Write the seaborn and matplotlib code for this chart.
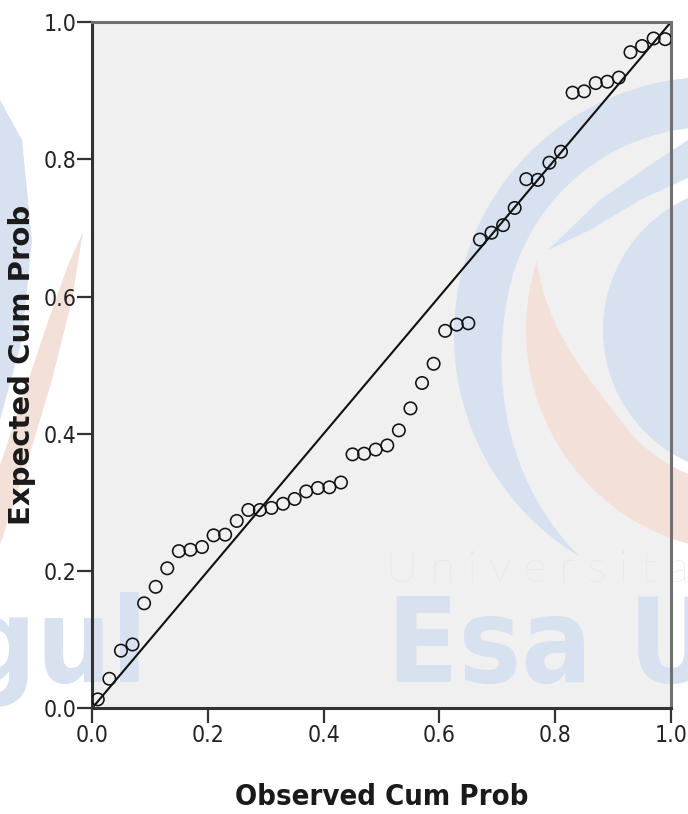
import os
import numpy as np
import pandas as pd
import matplotlib
matplotlib.use("Agg")
import matplotlib.pyplot as plt
import matplotlib.transforms as mtransforms
from matplotlib import font_manager as fm
from matplotlib.patches import Rectangle, Circle, Polygon
import seaborn as sns

# Observed vs expected cumulative probabilities (P-P plot, 50 cases)
observed = [0.01, 0.03, 0.05, 0.07, 0.09, 0.11, 0.13, 0.15, 0.17, 0.19,
            0.21, 0.23, 0.25, 0.27, 0.29, 0.31, 0.33, 0.35, 0.37, 0.39,
            0.41, 0.43, 0.45, 0.47, 0.49, 0.51, 0.53, 0.55, 0.57, 0.59,
            0.61, 0.63, 0.65, 0.67, 0.69, 0.71, 0.73, 0.75, 0.77, 0.79,
            0.81, 0.83, 0.85, 0.87, 0.89, 0.91, 0.93, 0.95, 0.97, 0.99]
expected = [0.013, 0.043, 0.084, 0.093, 0.153, 0.177, 0.204, 0.229, 0.231, 0.235,
            0.252, 0.253, 0.273, 0.289, 0.289, 0.292, 0.298, 0.305, 0.316, 0.321,
            0.322, 0.329, 0.370, 0.371, 0.377, 0.383, 0.405, 0.437, 0.474, 0.502,
            0.550, 0.559, 0.561, 0.683, 0.693, 0.704, 0.729, 0.771, 0.770, 0.795,
            0.811, 0.897, 0.899, 0.911, 0.913, 0.919, 0.956, 0.965, 0.976, 0.975]
reference_line = [0.0, 1.0]
tick_values = [0.0, 0.2, 0.4, 0.6, 0.8, 1.0]
tick_labels = ["0.0", "0.2", "0.4", "0.6", "0.8", "1.0"]
x_title = "Observed Cum Prob"
y_title = "Expected Cum Prob"

df = pd.DataFrame({"observed": observed, "expected": expected})

sns.set_style("white")
plt.rcParams["font.family"] = ["Liberation Sans", "DejaVu Sans"]


def font_from_files(names, fallback):
    files = {os.path.basename(f.fname): f.fname for f in fm.fontManager.ttflist}
    for n in names:
        if n in files:
            return fm.FontProperties(fname=files[n]), n
    return fallback, None


tick_fp, tick_name = font_from_files(
    ["LiberationSansNarrow-Regular.ttf", "DejaVuSansCondensed.ttf"],
    fm.FontProperties(family="Liberation Sans"))
tick_fp.set_size(18 if tick_name and "Liberation" in tick_name else 16.5)

xt_fp, xt_name = font_from_files(
    ["DejaVuSansCondensed-Bold.ttf", "LiberationSansNarrow-Bold.ttf"],
    fm.FontProperties(family="Liberation Sans", weight="bold"))
if xt_name is None:
    xt_fp.set_size(20)
elif "DejaVu" in xt_name:
    xt_fp.set_size(21)
else:
    xt_fp.set_size(25)

yt_fp = fm.FontProperties(family="DejaVu Sans", weight="bold", size=21)

W, H = 688, 814
fig = plt.figure(figsize=(W / 100, H / 100), dpi=100)
ax = fig.add_axes([92 / W, 1 - 708.3 / H, (671 - 92) / W, (708.3 - 22) / H])
ax.patch.set_visible(False)

# plot background drawn beneath the logo overlay
fig.add_artist(Rectangle((0, 0), 1, 1, transform=ax.transAxes,
                         facecolor="#f0f0f0", edgecolor="none", zorder=-3))

# faint university logo overlay, laid out in pixel units (y downward)
px = mtransforms.Affine2D().scale(1, -1).translate(0, H)
blue = "#d7e1f0"
orange = "#f3e1d9"


def crescent(cx, cy, r, w, t1, t2, taper1, taper2):
    t = np.linspace(t1, t2, 200)
    ramp = np.clip(np.minimum((t - t1) / taper1, (t2 - t) / taper2), 0, 1)
    width = w * np.sin(ramp * np.pi / 2)
    rad = np.deg2rad(t)
    outer = np.column_stack([cx + r * np.cos(rad), cy + r * np.sin(rad)])
    ri = r - width
    inner = np.column_stack([cx + ri * np.cos(rad), cy + ri * np.sin(rad)])[::-1]
    return np.vstack([outer, inner])


wm = [
    Polygon(crescent(712, 335, 258, 50, 121, 290, 70, 5), closed=True,
            facecolor=blue),
    Circle((748, 330), 145, facecolor=blue),
    Polygon(crescent(748, 330, 222, 66, 80, 198, 5, 55), closed=True,
            facecolor=orange),
    Polygon([(548, 250), (600, 200), (650, 165), (688, 140), (688, 178),
             (640, 200), (590, 230)], closed=True, facecolor=blue),
    Polygon([(83, 232), (72, 300), (52, 380), (28, 460), (0, 545), (0, 465),
             (20, 405), (45, 330), (68, 265)], closed=True, facecolor=orange),
    Polygon([(0, 100), (22, 140), (32, 240), (22, 340), (0, 420)],
            closed=True, facecolor=blue),
]
for p in wm:
    p.set_transform(px)
    p.set_edgecolor("none")
    p.set_zorder(-2)
    fig.add_artist(p)

wm_bold, _ = font_from_files(
    ["LiberationSansNarrow-Bold.ttf", "DejaVuSansCondensed-Bold.ttf"],
    fm.FontProperties(family="Liberation Sans", weight="bold"))
wm_bold.set_size(84)
fig.text(387, 682, "Esa U", fontproperties=wm_bold, color=blue,
         transform=px, ha="left", va="baseline", zorder=-2)
fig.text(148, 682, "Unggul", fontproperties=wm_bold, color=blue,
         transform=px, ha="right", va="baseline", zorder=-2)
fig.text(386, 582, "U n i v e r s i t a s", family="Lato", weight="light",
         fontsize=32, color="#dce4f1", transform=px, ha="left",
         va="baseline", zorder=-2)

# reference diagonal and data points
sns.lineplot(x=reference_line, y=reference_line, ax=ax, color="#111111",
             linewidth=1.5, zorder=2)
sns.scatterplot(data=df, x="observed", y="expected", ax=ax, marker="o",
                s=80, zorder=3, legend=False)
pts = ax.collections[-1]
pts.set_facecolor("none")
pts.set_edgecolor("#111111")
pts.set_linewidth(1.15)

ax.set_xlim(0, 1)
ax.set_ylim(0, 1)
ax.set_xticks(tick_values)
ax.set_yticks(tick_values)
ax.set_xticklabels(tick_labels, fontproperties=tick_fp, color="#222222")
ax.set_yticklabels(tick_labels, fontproperties=tick_fp, color="#222222")
ax.tick_params(axis="both", direction="out", length=10.5, width=1.6,
               color="#333333", left=True, bottom=True)
ax.tick_params(axis="x", pad=1)
ax.tick_params(axis="y", pad=0.5)

for side in ["left", "bottom"]:
    ax.spines[side].set_color("#333333")
    ax.spines[side].set_linewidth(2.2)
for side in ["top", "right"]:
    ax.spines[side].set_visible(True)
    ax.spines[side].set_color("#707070")
    ax.spines[side].set_linewidth(2.2)

ax.set_xlabel(x_title, fontproperties=xt_fp, color="#1a1a1a")
ax.set_ylabel(y_title, fontproperties=yt_fp, color="#1a1a1a")
ax.xaxis.set_label_coords(0.5, (708.3 - 783) / 686.3)
ax.yaxis.set_label_coords((36 - 92) / 579, 0.5)

fig.savefig("out.png", dpi=100, facecolor="white")
